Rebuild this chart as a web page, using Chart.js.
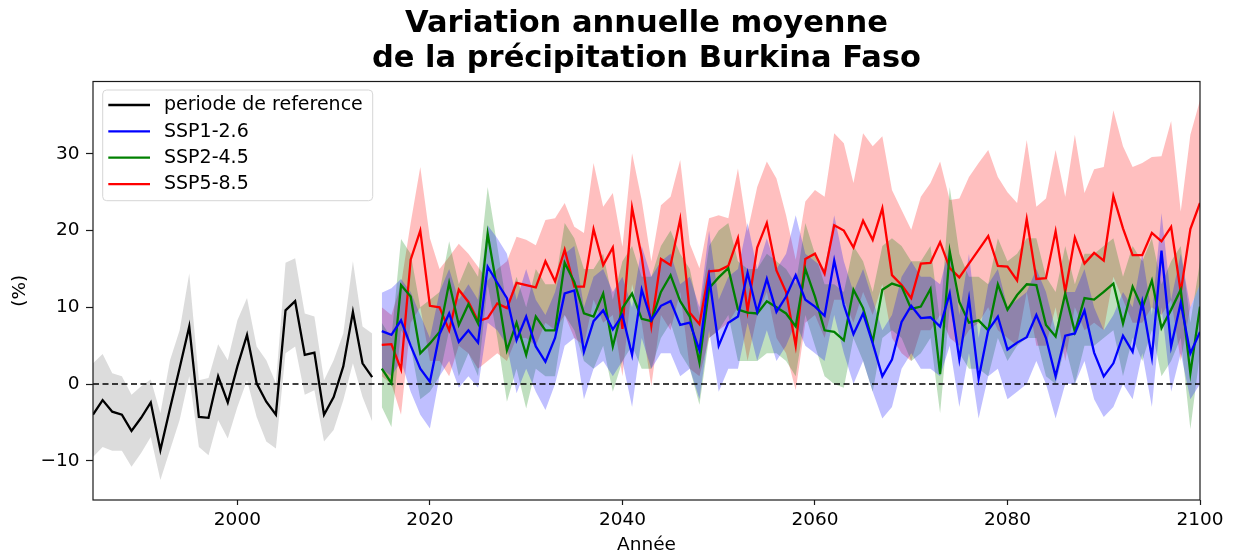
<!DOCTYPE html>
<html><head><meta charset="utf-8">
<script src="https://cdn.jsdelivr.net/npm/chart.js@4.4.0/dist/chart.umd.min.js"></script>
<style>html,body{margin:0;padding:0;background:#fff;}#wrap{width:1234px;height:555px;position:relative;}</style>
</head><body><div id="wrap"><canvas id="c" width="1234" height="555"></canvas></div>
<script>
// ---- data ----
const refYears = [1985,1986,1987,1988,1989,1990,1991,1992,1993,1994,1995,1996,1997,1998,1999,2000,2001,2002,2003,2004,2005,2006,2007,2008,2009,2010,2011,2012,2013,2014];
const refMean = [-4.0,-2.1,-3.6,-4.0,-6.1,-4.4,-2.4,-8.6,-3.2,2.1, 7.5,-4.3,-4.4,1.0,-2.4,2.3,6.4,0.1,-2.3,-4.0, 9.6,10.8,3.8,4.1,-4.0,-1.7,2.3,9.4,2.7,0.9];
const refHigh = [2.7,3.9,1.4,1.0,-1.4,-0.3,0.6,-3.8,3.1,7.0, 14.4,0.5,0.8,5.2,3.1,8.3,11.2,4.9,3.1,0.1, 15.8,16.4,9.2,8.8,0.5,3.1,6.6,16.0,7.5,6.6];
const refLow = [-9.5,-8.2,-8.7,-8.7,-10.8,-9.0,-6.9,-12.5,-8.6,-4.7, 1.0,-8.2,-9.3,-4.7,-7.1,-3.0,0.5,-4.3,-7.5,-8.4, 4.0,4.9,-1.4,-0.8,-7.5,-6.0,-2.1,2.7,-1.7,-4.9];

const projYears = [2015,2016,2017,2018,2019,2020,2021,2022,2023,2024,2025,2026,2027,2028,2029,2030,2031,2032,2033,2034,2035,2036,2037,2038,2039,2040,2041,2042,2043,2044,2045,2046,2047,2048,2049,2050,2051,2052,2053,2054,2055,2056,2057,2058,2059,2060,2061,2062,2063,2064,2065,2066,2067,2068,2069,2070,2071,2072,2073,2074,2075,2076,2077,2078,2079,2080,2081,2082,2083,2084,2085,2086,2087,2088,2089,2090,2091,2092,2093,2094,2095,2096,2097,2098,2099,2100];

const ssp126Mean = [6.9,6.4,8.3,5.0,2.0,0.3,6.5,9.2,5.5,7.0, 5.4,15.3,13.2,11.2,5.7,8.8,4.9,2.9,6.0,11.8, 12.2,4.2,8.2,9.6,7.1,9.0,3.8,12.3,8.3,10.2, 10.8,7.7,8.0,4.4,14.0,5.0,8.0,8.8,14.5,9.4, 13.7,9.4,11.4,14.2,11.0,10.1,8.9,16.1,10.3,6.5, 9.2,5.3,1.0,3.2,8.1,10.2,8.6,8.7,7.5,11.8, 3.2,11.1,0.7,7.0,8.8,4.5,5.4,6.1,9.0,6.0, 1.0,6.3,6.6,9.6,4.1,1.0,2.7,6.3,4.2,10.7, 3.5,17.4,4.9,10.6,4.0,6.8];
const ssp126High = [11.9,12.5,13.7,12,9,6,12,15,11,13, 11,20.7,19,17,11,15,11,9,12,17, 18,10,14,15,12,14,10,18,14,16, 17,13,14,10,20,11,14,15,21,15, 19,15,17,22,17,16,15,22,16,12, 15,11,7,9,14,16,14,14,13,18, 9,17,6,13,15,10,11,12,15,12, 7,12,12,15,10,7,9,12,10,17, 9,22.3,11,17,10,13];
const ssp126Low = [2,1,3,-1,-4,-5.8,1,3,-0.5,1, -0.5,8,7,5,-1.2,2,-1,-3.4,0,5, 6,-2,2,3,1,3,-3,6,2,4, 4,1,2,-2,7,-1,2,2,8,3, 7,3,5,8,5,4,3,9,4,0, 3,-1,-4.5,-3,2,4,2,2,1,5, -3,4,-4.5,1,2,-2,-1,0,3,0, -4.5,0,0,3,-2,-4.3,-3,0,-2,4, -3,10,-1,4,-2,0];

const ssp245Mean = [2.0,0.1,12.9,11.4,4.0,5.3,6.8,13.2,7.7,10.4, 7.9,19.6,12.3,4.4,8.0,3.8,8.8,7.0,7.0,15.8, 13.3,9.2,8.8,11.8,4.9,9.9,11.8,8.5,8.2,12.0, 14.2,10.8,8.8,2.8,12.5,13.9,15.1,9.7,9.3,9.2, 10.8,10.0,9.2,7.5,15.0,11.4,7.0,6.8,5.7,12.3, 9.9,5.5,12.3,13.1,12.7,9.8,10.1,12.4,1.3,17.3, 10.7,8.0,8.3,7.0,13.0,9.7,11.6,13.0,12.9,7.7, 6.2,11.8,6.8,11.2,11.0,12.0,13.1,7.9,12.7,9.9, 13.5,7.3,9.7,12.3,1.4,10.1];
const ssp245High = [8,6,18.9,17,10,11,12,18.6,13,16, 14,25.7,18,10,14,10,15,13,13,21, 19,15,15,17,11,16,18,14,14,18, 20,17,15,9,18,20,21,16,15,15, 17,16,15,13,21,17,13,13,12,18, 16,12,18,19,18,16,16,18,8,25.7, 17,14,14,13,19,16,17,19,19,14, 12,18,13,17,17,18,19,14,18,16, 19,13,16,18,8,16];
const ssp245Low = [-3,-5.6,7,5,-2,-1,1,7,1,4, 1,13,6,-2.3,2,-3.2,2,1,1,9, 7,3,2,5,-1,3,5,2,2,6, 8,4,2,-2.7,6,7,9,3,3,3, 4,4,3,1,9,5,1,0,-0.5,6, 3,-1,6,7,6,3,4,6,-3.8,10, 4,2,2,1,6,3,5,6,6,1, 0,5,0,5,5,6,7,1,6,3, 7,1,3,6,-5.9,4];

const ssp585Mean = [5.1,5.2,1.9,16.2,20.0,10.2,10.0,7.0,12.3,10.7, 8.2,8.6,10.5,9.9,13.2,12.9,12.6,16.0,13.4,17.5, 12.7,12.7,20.2,15.5,17.8,7.2,23.0,16.6,7.6,16.3, 15.5,21.5,9.3,7.8,14.7,14.8,15.4,19.0,9.5,17.8, 21.0,14.8,12.0,5.0,16.3,17.0,14.4,20.7,20.0,17.8, 21.3,18.8,22.9,14.2,12.9,11.2,15.7,15.8,18.5,15.1, 13.9,15.7,17.5,19.3,15.4,15.3,13.5,21.5,13.7,13.8, 19.9,12.0,19.1,15.7,17.1,16.1,24.5,20.3,16.8,16.8, 19.7,18.6,20.5,12.0,20.2,23.6];
const ssp585High = [10,9,13,21,28.3,19,15,16.6,18.3,17, 15.3,13.5,15,16,19.2,18.8,18.1,21.4,21.6,23.6, 20.5,19.7,28.8,23.1,24.9,17.9,30.1,24,16,23.3, 24.4,29.2,18.3,15.1,21.6,22,21.6,28.1,19.9,25.7, 29,26.8,22,16.2,23.8,25.3,24.4,32.7,31.4,26.2, 32.7,31,32.3,25.3,22.7,20.1,24.4,26.2,29,24, 24.2,27,28.8,30.5,27,25,23.6,31.8,23.1,24.2, 30.5,24.4,32.5,24.9,28,28.3,35.7,31,28.3,28.8, 29.6,29.7,34.3,22.5,32.5,37];
const ssp585Low = [1,0,-4,8,10,3,3,1,5,4, 2,3,4,3,6,6,5,8,7,9, 6,5,11,8,9,1,13,8,-0.3,9, 7,12,2,1,6,7,8,10,3,9, 12,6,4,-0.8,8,9,6,11,11,8, 12,9,13,6,4,3,7,7,9,6, 5,7,8,10,7,6,5,12,5,5, 10,3,10,7,8,7,14,11,8,8, 10,9,11,3,10,13];

const xTicks = [2000,2020,2040,2060,2080,2100];
const yTicks = [-10,0,10,20,30];
const legendLabels = ['periode de reference','SSP1-2.6','SSP2-4.5','SSP5-8.5'];
const titleLines = ['Variation annuelle moyenne','de la précipitation Burkina Faso'];

// ---- helpers ----
const FONT = "'DejaVu Sans', sans-serif";
const pts = (xs, ys) => xs.map((x, i) => ({x: x, y: ys[i]}));
const line = (label, xs, ys, color) => ({label, data: pts(xs, ys), borderColor: color, backgroundColor: color,
  borderWidth: 2.3, pointRadius: 0, fill: false, order: 0, tension: 0, legendItem: true});
const band = (xs, ys, fillColor, target) => ({label: '', data: pts(xs, ys), borderColor: 'rgba(0,0,0,0)',
  borderWidth: 0, pointRadius: 0, backgroundColor: fillColor, fill: target === null ? false : {target: target}, order: 1, tension: 0});

const datasets = [
  line(legendLabels[0], refYears, refMean, '#000000'),
  line(legendLabels[1], projYears, ssp126Mean, '#0000ff'),
  line(legendLabels[2], projYears, ssp245Mean, '#008000'),
  line(legendLabels[3], projYears, ssp585Mean, '#ff0000'),
  {label: '', data: [{x: refYears[0], y: 0}, {x: projYears[projYears.length - 1], y: 0}], borderColor: '#000',
    borderWidth: 1.5, borderDash: [6, 3.5], pointRadius: 0, fill: false, order: 0},
  band(refYears, refHigh, 'rgba(211,211,211,0.8)', 6),
  band(refYears, refLow, 'rgba(0,0,0,0)', null),
  band(projYears, ssp126High, 'rgba(0,0,255,0.25)', 8),
  band(projYears, ssp126Low, 'rgba(0,0,0,0)', null),
  band(projYears, ssp245High, 'rgba(0,128,0,0.25)', 10),
  band(projYears, ssp245Low, 'rgba(0,0,0,0)', null),
  band(projYears, ssp585High, 'rgba(255,0,0,0.25)', 12),
  band(projYears, ssp585Low, 'rgba(0,0,0,0)', null)
];

const framePlugin = {
  id: 'frame',
  afterDraw(chart) {
    const {ctx, chartArea: a} = chart;
    ctx.save();
    ctx.strokeStyle = '#1a1a1a';
    ctx.lineWidth = 1.2;
    ctx.strokeRect(a.left, a.top, a.right - a.left, a.bottom - a.top);
    ctx.restore();
  }
};

const legendPlugin = {
  id: 'insideLegend',
  afterDatasetsDraw(chart) {
    const {ctx, chartArea: a} = chart;
    const items = chart.data.datasets.filter(d => d.legendItem);
    const x0 = a.left + 9.7, y0 = a.top + 8.5, w = 270, h = 110.7;
    ctx.save();
    ctx.beginPath();
    ctx.roundRect(x0, y0, w, h, 4);
    ctx.fillStyle = 'rgba(255,255,255,0.8)';
    ctx.fill();
    ctx.strokeStyle = '#d6d6d6';
    ctx.lineWidth = 1;
    ctx.stroke();
    ctx.font = '19px ' + FONT;
    ctx.textBaseline = 'middle';
    items.forEach((d, i) => {
      const y = y0 + 15 + i * 26.35;
      ctx.beginPath();
      ctx.moveTo(a.left + 15.3, y);
      ctx.lineTo(a.left + 57, y);
      ctx.strokeStyle = d.borderColor;
      ctx.lineWidth = 2.3;
      ctx.stroke();
      ctx.fillStyle = '#000';
      ctx.fillText(d.label, a.left + 71, y + 0.5);
    });
    ctx.restore();
  }
};

const fmt = v => (v < 0 ? '\u2212' + Math.abs(v) : String(v));

new Chart(document.getElementById('c'), {
  type: 'line',
  data: {datasets},
  plugins: [framePlugin, legendPlugin],
  options: {
    responsive: false,
    devicePixelRatio: 1,
    animation: false,
    layout: {padding: {left: 0, right: 34, top: 0, bottom: 0}},
    plugins: {
      legend: {display: false},
      tooltip: {enabled: false},
      title: {display: true, fullSize: false, text: titleLines, color: '#000',
        font: {family: FONT, size: 30.5, weight: 'bold', lineHeight: 1.15},
        padding: {top: 6.5, bottom: 4.85}}
    },
    scales: {
      x: {type: 'linear', min: 1985, max: 2100,
        afterFit(s) { s.height = 55; },
        afterBuildTicks(s) { s.ticks = xTicks.map(v => ({value: v})); },
        grid: {drawOnChartArea: false, drawTicks: true, tickLength: 5, color: '#1a1a1a', tickWidth: 1.2},
        border: {display: false},
        ticks: {color: '#000', font: {family: FONT, size: 18.5}, padding: 4, maxRotation: 0, callback: v => fmt(v)},
        title: {display: true, text: 'Année', color: '#000', font: {family: FONT, size: 18.5, lineHeight: 1.0}, padding: {top: 0, bottom: 1}}
      },
      y: {type: 'linear', min: -15.12, max: 39.44,
        afterFit(s) { s.width = 93; },
        afterBuildTicks(s) { s.ticks = yTicks.map(v => ({value: v})); },
        grid: {drawOnChartArea: false, drawTicks: true, tickLength: 7, color: '#1a1a1a', tickWidth: 1.2},
        border: {display: false},
        ticks: {color: '#000', font: {family: FONT, size: 18.5}, padding: 6.5, callback: v => fmt(v)},
        title: {display: true, text: '(%)', color: '#000', font: {family: FONT, size: 18.5, lineHeight: 1.2}, padding: {top: 9, bottom: 0}}
      }
    }
  }
});
</script></body></html>
